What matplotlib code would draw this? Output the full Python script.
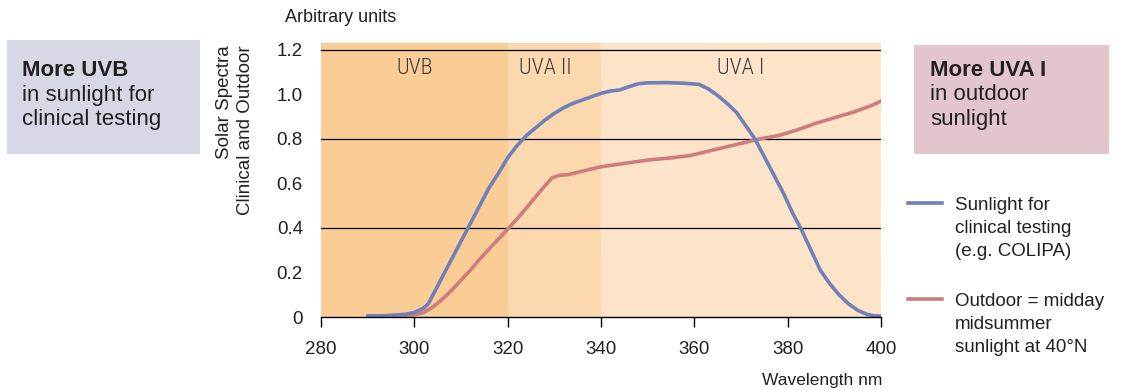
import numpy as np
import matplotlib.pyplot as plt

# wavelengths (nm) and relative spectra
clin_wl = [290, 294, 298, 300, 302, 303, 304, 306, 308, 310, 312, 314, 316, 318,
           320, 322, 324, 326, 328, 330, 332, 334, 336, 338, 340, 342, 344, 346,
           348, 350, 354, 358, 361, 363, 365, 367, 369, 371, 373, 375, 377, 379,
           381, 383, 385, 387, 389, 391, 393, 395, 397, 398.5, 400]
clin_val = [0.005, 0.006, 0.012, 0.02, 0.04, 0.06, 0.10, 0.18, 0.26, 0.34, 0.42, 0.50,
            0.58, 0.645, 0.715, 0.77, 0.815, 0.85, 0.885, 0.915, 0.94, 0.96, 0.975,
            0.99, 1.005, 1.015, 1.02, 1.035, 1.048, 1.052, 1.053, 1.05, 1.045, 1.025,
            0.995, 0.96, 0.92, 0.86, 0.80, 0.72, 0.64, 0.56, 0.47, 0.39, 0.30, 0.21,
            0.15, 0.10, 0.06, 0.03, 0.012, 0.005, 0.005]

out_wl = [290, 296, 300, 302, 304, 306, 308, 310, 312, 314, 316, 318, 320, 322,
          324, 326, 328, 329.5, 331, 333, 336, 340, 345, 350, 355, 359, 362, 366,
          370, 374, 378, 382, 386, 390, 394, 398, 400]
out_val = [0.005, 0.006, 0.01, 0.02, 0.045, 0.08, 0.12, 0.165, 0.21, 0.26, 0.305,
           0.35, 0.395, 0.44, 0.49, 0.54, 0.59, 0.625, 0.636, 0.64, 0.655, 0.675,
           0.69, 0.705, 0.715, 0.725, 0.74, 0.76, 0.78, 0.80, 0.815, 0.84, 0.87,
           0.895, 0.92, 0.95, 0.97]

bands = [(280, 320, "UVB", 300, "#FACC96"),
         (320, 340, "UVA II", 328, "#FCD8AE"),
         (340, 400.5, "UVA I", 370, "#FDE3C7")]

xticks = [280, 300, 320, 340, 360, 380, 400]
yticks = [0, 0.2, 0.4, 0.6, 0.8, 1.0, 1.2]
ytick_labels = ["0", "0.2", "0.4", "0.6", "0.8", "1.0", "1.2"]

blue = "#7080B8"
red = "#CD7D7D"
txt = "#231F20"

W, H = 1123, 390
plt.rcParams['font.family'] = ['Liberation Sans', 'DejaVu Sans']

fig = plt.figure(figsize=(W / 100, H / 100), dpi=100)


def fx(x):
    return x / W


def fy(y):
    return 1 - y / H


ax = fig.add_axes([fx(321), fy(317), (881 - 321) / W, (317 - 43) / H])
ax.set_xlim(280, 400)
ax.set_ylim(0, 1.231)

for x0, x1, name, xc, col in bands:
    ax.axvspan(x0, x1, color=col, lw=0, zorder=0)
    ax.text(xc, 1.115, name, ha="center", va="center", fontsize=16, color="#3A3A3A",
            family=["Roboto Condensed", "Roboto", "DejaVu Sans"], fontweight="light",
            zorder=3)

for g in [0.4, 0.8, 1.2]:
    ax.axhline(g, color="black", lw=0.9, zorder=1)

ax.plot(out_wl, out_val, color=red, lw=2.6, solid_capstyle="round", zorder=2)
ax.plot(clin_wl, clin_val, color=blue, lw=2.6, solid_capstyle="round", zorder=2)

for s in ["left", "right", "top"]:
    ax.spines[s].set_visible(False)
ax.spines["bottom"].set_linewidth(1.0)
ax.spines["bottom"].set_zorder(4)
ax.set_xticks(xticks)
ax.set_yticks(yticks)
ax.set_yticklabels(ytick_labels)
ax.tick_params(axis="x", direction="out", length=7.5, width=1.0, pad=10,
               labelsize=13.5, labelcolor=txt)
ax.tick_params(axis="y", length=0, pad=13, labelsize=13.5, labelcolor=txt)

fig.text(fx(285), fy(18), "Arbitrary units", fontsize=13, color=txt, va="center")
fig.text(fx(882), fy(380), "Wavelength nm", fontsize=12.5, color=txt,
         ha="right", va="center")
fig.text(fx(235), fy(45), "Solar Spectra\nClinical and Outdoor", rotation=90,
         fontsize=13.5, color=txt, ha="center", va="top", multialignment="right",
         linespacing=1.35)

# side boxes
fig.patches.append(plt.Rectangle((fx(7), fy(154)), (200 - 7) / W, (154 - 40) / H,
                                 transform=fig.transFigure, color="#D6D9E5", lw=0))
fig.patches.append(plt.Rectangle((fx(914), fy(154)), (1109 - 914) / W, (154 - 45) / H,
                                 transform=fig.transFigure, color="#E3C6CB", lw=0))

left_lines = ["More UVB", "in sunlight for", "clinical testing"]
right_lines = ["More UVA I", "in outdoor", "sunlight"]
for i, (a, b) in enumerate(zip(left_lines, right_lines)):
    w = "bold" if i == 0 else "normal"
    fig.text(fx(22), fy(71 + 24 * i), a, fontsize=16, fontweight=w, color=txt, va="center")
    fig.text(fx(930), fy(71 + 24 * i), b, fontsize=16, fontweight=w, color=txt, va="center")

# legend
leg = [(blue, 203, ["Sunlight for", "clinical testing", "(e.g. COLIPA)"]),
       (red, 299, ["Outdoor = midday", "midsummer", "sunlight at 40°N"])]
for col, y0, lines in leg:
    fig.add_artist(plt.Line2D([fx(908), fx(942)], [fy(y0), fy(y0)], color=col, lw=2.6,
                              transform=fig.transFigure))
    for i, t in enumerate(lines):
        fig.text(fx(955), fy(y0 + 2 + 23.5 * i), t, fontsize=13.5, color=txt, va="center")

fig.savefig("out.png", dpi=100)
